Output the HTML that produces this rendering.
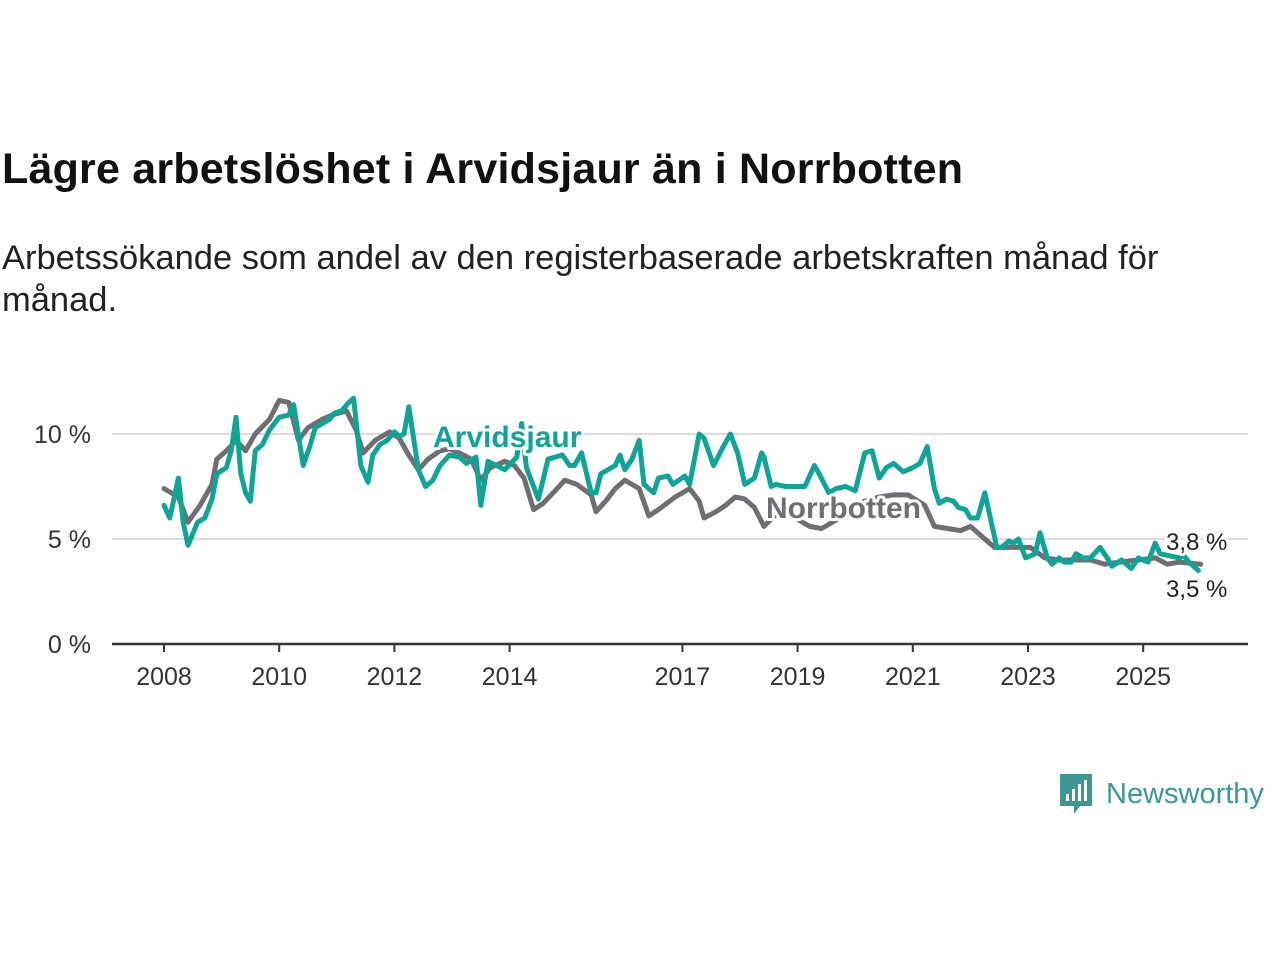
<!DOCTYPE html>
<html><head><meta charset="utf-8">
<style>
body{margin:0;width:1280px;height:960px;background:#fff;font-family:"Liberation Sans",sans-serif;overflow:hidden;position:relative}
#title{position:absolute;left:2px;top:145px;font-size:43px;font-weight:bold;color:#111;letter-spacing:0.2px;white-space:nowrap}
#sub{position:absolute;left:2px;top:237px;font-size:34.5px;line-height:42px;color:#222;width:1200px}
svg{position:absolute;left:0;top:0}
#logo{position:absolute;left:1058px;top:772px;display:flex;align-items:center}
#logo span{font-size:29px;color:#3a9a92;margin-left:12px;white-space:nowrap}
</style></head><body>
<div id="title">Lägre arbetslöshet i Arvidsjaur än i Norrbotten</div>
<div id="sub">Arbetssökande som andel av den registerbaserade arbetskraften månad för månad.</div>
<svg id="chart" width="1280" height="960"></svg>
<div id="logo">
<svg width="36" height="44" viewBox="0 0 36 44" style="position:static"><path d="M2 2h32v32H22l-6 8v-8H2z" fill="#3a9a92"/><rect x="8" y="22" width="3" height="7" fill="#fff"/><rect x="14" y="17" width="3" height="12" fill="#fff"/><rect x="20" y="12" width="3" height="17" fill="#fff"/><rect x="26" y="8" width="3" height="21" fill="#fff"/></svg>
<span>Newsworthy</span></div>
<script>
const grayMonths=[0,3,5,7.5,10,11,13,15,17,19,22,24,26,28,30,33,35,38,40,41.5,44,47,49,51,53,55,57.5,59.5,61.5,64,66,68,71,73,75,77,79,81.5,83.5,86,89,90,92,94,96,99,101,103,106.5,109.5,111.5,112.5,115,117,119,121,123,125,128,131.5,134.5,137,140,143,146,149,152,155,158.5,160.5,166,168,171,173,176,180.5,183.5,186.5,193,196,199,203,206.5,209,211.5,216];
const grayValues=[7.4,7.0,5.8,6.6,7.6,8.8,9.2,9.7,9.2,10.0,10.7,11.6,11.5,9.7,10.3,10.7,10.9,11.1,10.2,9.1,9.7,10.1,9.8,9.0,8.3,8.8,9.2,9.3,9.1,8.8,7.8,8.4,8.7,8.5,7.9,6.4,6.7,7.3,7.8,7.6,7.1,6.3,6.8,7.4,7.8,7.4,6.1,6.4,7.0,7.4,6.8,6.0,6.3,6.6,7.0,6.9,6.5,5.6,6.3,6.0,5.6,5.5,5.9,6.5,6.8,7.0,7.1,7.1,6.6,5.6,5.4,5.6,5.0,4.6,4.6,4.6,4.1,4.0,4.0,3.8,3.9,4.0,4.1,3.8,3.9,3.8];
const tealMonths=[0,1.2,3,4,5,7,8.5,10,11,13,14,15,16,17,18,19,20.5,22,24,26,27,29,30.5,31.5,33,34.5,35.5,37,38.5,39.5,41,42.5,43.5,45,46.5,48,49,50,51,53,54.5,56,57.5,59.5,61.5,63,65,66,67.5,71,73.5,74.5,75.5,78,80,83,84.5,85.5,87,89,90,91,94,95,96,97.5,99,100,102,103,105,106,108.5,109.5,111.5,112.5,114.5,116.5,118,119.5,121,123,124.5,125,126.5,127.5,129.5,133.5,135.5,136.5,138.5,140,142,144,146,147.5,149,150.5,152,154,156,157.5,159,160.5,161.5,163,164.5,165.5,167,168,169.5,171,173.5,174.5,176,177,178,179.5,181.5,182.5,184,185,186.5,187.5,189,190,191.5,193,195,196.5,197.5,199.5,201.5,203,205,206.5,207.5,209.5,211.5,212.5,213.5,215.5];
const tealValues=[6.6,6.0,7.9,5.8,4.7,5.8,6.0,6.9,8.1,8.4,9.2,10.8,8.1,7.2,6.8,9.2,9.5,10.2,10.8,10.9,11.4,8.5,9.5,10.3,10.5,10.7,11.0,11.1,11.5,11.7,8.5,7.7,9.0,9.5,9.7,10.1,9.9,10.0,11.3,8.3,7.5,7.8,8.5,9.0,8.9,8.6,8.9,6.6,8.7,8.3,8.9,10.5,8.4,6.9,8.8,9.0,8.5,8.5,9.1,7.2,7.2,8.1,8.5,9.0,8.3,8.8,9.7,7.6,7.2,7.9,8.0,7.6,8.0,7.6,10.0,9.8,8.5,9.4,10.0,9.1,7.6,7.9,9.1,8.9,7.5,7.6,7.5,7.5,8.5,8.1,7.2,7.4,7.5,7.3,9.1,9.2,7.9,8.4,8.6,8.2,8.4,8.6,9.4,7.4,6.7,6.9,6.8,6.5,6.4,6.0,6.0,7.2,4.6,4.6,4.9,4.8,5.0,4.1,4.3,5.3,4.1,3.8,4.1,3.9,3.9,4.3,4.1,4.1,4.6,4.1,3.7,4.0,3.6,4.1,3.9,4.8,4.3,4.2,4.1,4.2,3.9,3.5];
const yTicks=[0,5,10];
const yTickLabels=["0 %","5 %","10 %"];
const xTickYears=[2008,2010,2012,2014,2017,2019,2021,2023,2025];
const endLabels=["3,8 %","3,5 %"];

const NS="http://www.w3.org/2000/svg";
const svg=document.getElementById('chart');
const X=m=>164+m*4.8;
const XY=yr=>X((yr-2008)*12);
const Y=v=>644-v*21;
function mk(t,a){const e=document.createElementNS(NS,t);for(const k in a)e.setAttribute(k,a[k]);svg.appendChild(e);return e;}
yTicks.forEach((v,i)=>{
  if(v>0){const g=mk('line',{x1:112,x2:1248,y1:Y(v),y2:Y(v),stroke:'#dcdcdc','stroke-width':2});
  
  }
  const t=mk('text',{x:91,y:Y(v)+9,'text-anchor':'end','font-size':25,fill:'#333','font-family':'Liberation Sans, sans-serif'});
  t.textContent=yTickLabels[i];
  
  
});
const ax=mk('line',{x1:112,x2:1248,y1:644,y2:644,stroke:'#333','stroke-width':2.5});


xTickYears.forEach(yr=>{
  const tk=mk('line',{x1:XY(yr),x2:XY(yr),y1:644,y2:652,stroke:'#333','stroke-width':2});
  
  
  const t=mk('text',{x:XY(yr),y:685,'text-anchor':'middle','font-size':25,fill:'#333','font-family':'Liberation Sans, sans-serif'});
  t.textContent=yr;
  
  
});
function line(ms,vs,c,name){
  const d=ms.map((m,i)=>(i?'L':'M')+X(m).toFixed(1)+' '+Y(vs[i]).toFixed(1)).join(' ');
  const p=mk('path',{d:d,fill:'none',stroke:c,'stroke-width':5,'stroke-linejoin':'round','stroke-linecap':'round'});
  
  
}
line(grayMonths,grayValues,'#6f6e73','norrbotten-line');
line(tealMonths,tealValues,'#0ea597','arvidsjaur-line');
function lab(x,y,txt,c,name,bold,size){
  const t=mk('text',{x:x,y:y,'font-size':size,fill:c,'font-weight':bold?'bold':'normal',stroke:'#fff','stroke-width':6,'paint-order':'stroke','stroke-linejoin':'round','font-family':'Liberation Sans, sans-serif'});
  t.textContent=txt;
  
  
}
lab(433,447,'Arvidsjaur','#0ea597','arvidsjaur-label',true,30);
lab(766,518,'Norrbotten','#6f6e73','norrbotten-label',true,30);
lab(1166,550,endLabels[0],'#222','end-label-norrbotten',false,24);
lab(1166,597,endLabels[1],'#222','end-label-arvidsjaur',false,24);
</script>
</body></html>
